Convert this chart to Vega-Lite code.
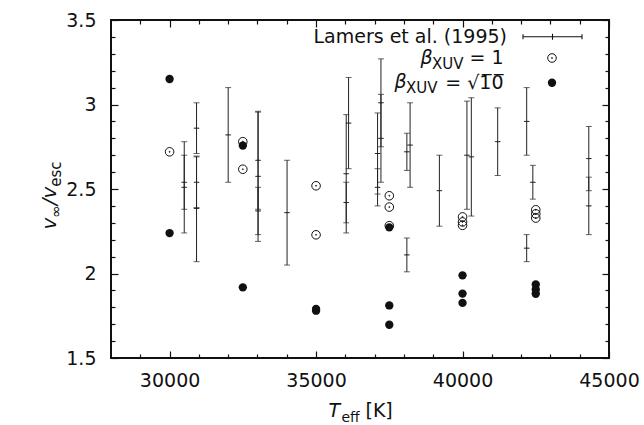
{
  "$schema": "https://vega.github.io/schema/vega-lite/v6.json",
  "width": 498,
  "height": 338,
  "autosize": {"type": "none"},
  "padding": {"left": 111, "top": 20, "right": 35, "bottom": 67},
  "background": "white",
  "config": {
    "font": "DejaVu Sans",
    "view": {"stroke": "#111", "strokeWidth": 2},
    "axis": {
      "grid": false, "domain": false, "labelFlush": false, "labelOverlap": false,
      "tickColor": "#111", "tickWidth": 1.2, "labelColor": "#111", "labelFont": "DejaVu Sans",
      "labelFontSize": 19, "titleColor": "#111", "titleFont": "DejaVu Sans", "titleFontWeight": "normal",
      "titlePadding": 0
    },
    "legend": {"labelFont": "DejaVu Sans", "labelFontSize": 19, "labelColor": "#111", "labelLimit": 400, "padding": 0, "title": null}
  },
  "datasets": {
    "lamers": [
      {"Teff": 30500, "v": 2.51, "lo": 2.24, "hi": 2.78, "series": "Lamers et al. (1995)"},
      {"Teff": 30500, "v": 2.54, "lo": 2.38, "hi": 2.70, "series": "Lamers et al. (1995)"},
      {"Teff": 30920, "v": 2.86, "lo": 2.71, "hi": 3.01, "series": "Lamers et al. (1995)"},
      {"Teff": 30920, "v": 2.54, "lo": 2.39, "hi": 2.69, "series": "Lamers et al. (1995)"},
      {"Teff": 30920, "v": 2.385, "lo": 2.07, "hi": 2.695, "series": "Lamers et al. (1995)"},
      {"Teff": 32000, "v": 2.82, "lo": 2.54, "hi": 3.10, "series": "Lamers et al. (1995)"},
      {"Teff": 33020, "v": 2.575, "lo": 2.19, "hi": 2.96, "series": "Lamers et al. (1995)"},
      {"Teff": 33020, "v": 2.67, "lo": 2.38, "hi": 2.955, "series": "Lamers et al. (1995)"},
      {"Teff": 33020, "v": 2.37, "lo": 2.23, "hi": 2.51, "series": "Lamers et al. (1995)"},
      {"Teff": 34010, "v": 2.36, "lo": 2.05, "hi": 2.67, "series": "Lamers et al. (1995)"},
      {"Teff": 36110, "v": 2.89, "lo": 2.62, "hi": 3.16, "series": "Lamers et al. (1995)"},
      {"Teff": 36030, "v": 2.59, "lo": 2.24, "hi": 2.94, "series": "Lamers et al. (1995)"},
      {"Teff": 36030, "v": 2.42, "lo": 2.30, "hi": 2.54, "series": "Lamers et al. (1995)"},
      {"Teff": 37215, "v": 3.01, "lo": 2.75, "hi": 3.27, "series": "Lamers et al. (1995)"},
      {"Teff": 37215, "v": 2.80, "lo": 2.54, "hi": 3.06, "series": "Lamers et al. (1995)"},
      {"Teff": 37100, "v": 2.71, "lo": 2.47, "hi": 2.95, "series": "Lamers et al. (1995)"},
      {"Teff": 37100, "v": 2.51, "lo": 2.40, "hi": 2.62, "series": "Lamers et al. (1995)"},
      {"Teff": 38100, "v": 2.72, "lo": 2.61, "hi": 2.83, "series": "Lamers et al. (1995)"},
      {"Teff": 38210, "v": 2.76, "lo": 2.51, "hi": 3.01, "series": "Lamers et al. (1995)"},
      {"Teff": 38100, "v": 2.11, "lo": 2.01, "hi": 2.21, "series": "Lamers et al. (1995)"},
      {"Teff": 39210, "v": 2.49, "lo": 2.28, "hi": 2.70, "series": "Lamers et al. (1995)"},
      {"Teff": 40150, "v": 2.70, "lo": 2.38, "hi": 3.02, "series": "Lamers et al. (1995)"},
      {"Teff": 40300, "v": 2.69, "lo": 2.34, "hi": 3.04, "series": "Lamers et al. (1995)"},
      {"Teff": 41200, "v": 2.78, "lo": 2.58, "hi": 2.98, "series": "Lamers et al. (1995)"},
      {"Teff": 42190, "v": 2.90, "lo": 2.70, "hi": 3.10, "series": "Lamers et al. (1995)"},
      {"Teff": 42400, "v": 2.54, "lo": 2.44, "hi": 2.64, "series": "Lamers et al. (1995)"},
      {"Teff": 42190, "v": 2.15, "lo": 2.07, "hi": 2.23, "series": "Lamers et al. (1995)"},
      {"Teff": 44310, "v": 2.68, "lo": 2.49, "hi": 2.87, "series": "Lamers et al. (1995)"},
      {"Teff": 44310, "v": 2.40, "lo": 2.23, "hi": 2.57, "series": "Lamers et al. (1995)"}
    ],
    "models": [
      {"Teff": 30000, "v": 2.72, "series": "β_XUV = 1"},
      {"Teff": 32500, "v": 2.78, "series": "β_XUV = 1"},
      {"Teff": 32500, "v": 2.617, "series": "β_XUV = 1"},
      {"Teff": 35000, "v": 2.519, "series": "β_XUV = 1"},
      {"Teff": 35000, "v": 2.229, "series": "β_XUV = 1"},
      {"Teff": 37500, "v": 2.46, "series": "β_XUV = 1"},
      {"Teff": 37500, "v": 2.393, "series": "β_XUV = 1"},
      {"Teff": 37500, "v": 2.283, "series": "β_XUV = 1"},
      {"Teff": 40000, "v": 2.335, "series": "β_XUV = 1"},
      {"Teff": 40000, "v": 2.305, "series": "β_XUV = 1"},
      {"Teff": 40000, "v": 2.285, "series": "β_XUV = 1"},
      {"Teff": 42500, "v": 2.377, "series": "β_XUV = 1"},
      {"Teff": 42500, "v": 2.353, "series": "β_XUV = 1"},
      {"Teff": 42500, "v": 2.328, "series": "β_XUV = 1"},
      {"Teff": 30000, "v": 3.151, "series": "β_XUV = √10"},
      {"Teff": 30000, "v": 2.239, "series": "β_XUV = √10"},
      {"Teff": 32500, "v": 2.757, "series": "β_XUV = √10"},
      {"Teff": 32500, "v": 1.918, "series": "β_XUV = √10"},
      {"Teff": 35000, "v": 1.79, "series": "β_XUV = √10"},
      {"Teff": 35000, "v": 1.78, "series": "β_XUV = √10"},
      {"Teff": 37500, "v": 2.273, "series": "β_XUV = √10"},
      {"Teff": 37500, "v": 1.811, "series": "β_XUV = √10"},
      {"Teff": 37500, "v": 1.697, "series": "β_XUV = √10"},
      {"Teff": 40000, "v": 1.989, "series": "β_XUV = √10"},
      {"Teff": 40000, "v": 1.881, "series": "β_XUV = √10"},
      {"Teff": 40000, "v": 1.826, "series": "β_XUV = √10"},
      {"Teff": 42500, "v": 1.935, "series": "β_XUV = √10"},
      {"Teff": 42500, "v": 1.905, "series": "β_XUV = √10"},
      {"Teff": 42500, "v": 1.88, "series": "β_XUV = √10"}
    ]
  },
  "layer": [
    {
      "data": {"name": "lamers"},
      "mark": {"type": "rule", "color": "#222", "strokeWidth": 1},
      "encoding": {
        "x": {"field": "Teff", "type": "quantitative", "scale": {"domain": [28000, 45000], "nice": false, "zero": false},
          "axis": {"orient": "bottom", "values": [30000, 35000, 40000, 45000], "format": "d", "ticks": false, "labelPadding": 13,
            "title": "T", "titleFontStyle": "italic", "titleFontSize": 19, "titleX": 217, "titleY": 58, "titleAngle": 0, "titleAlign": "left", "titleBaseline": "alphabetic"}},
        "y": {"field": "lo", "type": "quantitative", "scale": {"domain": [1.5, 3.5], "nice": false, "zero": false},
          "axis": {"orient": "left", "values": [1.5, 2, 2.5, 3, 3.5], "format": "~g", "ticks": false, "labelPadding": 15,
            "title": "v", "titleFontStyle": "italic", "titleFontSize": 20, "titleX": -56, "titleY": 209, "titleAngle": 270, "titleAlign": "left", "titleBaseline": "alphabetic"}},
        "y2": {"field": "hi"}
      }
    },
    {
      "data": {"name": "lamers"},
      "mark": {"type": "tick", "orient": "horizontal", "color": "#222", "thickness": 1, "size": 6},
      "encoding": {
        "x": {"field": "Teff", "type": "quantitative", "scale": {"domain": [28000, 45000], "nice": false, "zero": false},
          "axis": {"orient": "bottom", "offset": -7, "tickSize": 7, "values": [30000, 35000, 40000, 45000], "labels": false,
            "title": "eff", "titleFontSize": 14, "titleX": 230, "titleY": 70, "titleAngle": 0, "titleAlign": "left", "titleBaseline": "alphabetic"}},
        "y": {"field": "lo", "type": "quantitative", "scale": {"domain": [1.5, 3.5], "nice": false, "zero": false},
          "axis": {"orient": "left", "offset": -7, "tickSize": 7, "values": [1.5, 2, 2.5, 3, 3.5], "labels": false,
            "title": "∞", "titleFontSize": 15, "titleX": -58, "titleY": 197.3, "titleAngle": 270, "titleAlign": "left", "titleBaseline": "alphabetic"}}
      }
    },
    {
      "data": {"name": "lamers"},
      "mark": {"type": "tick", "orient": "horizontal", "color": "#222", "thickness": 1, "size": 6},
      "encoding": {
        "x": {"field": "Teff", "type": "quantitative", "scale": {"domain": [28000, 45000], "nice": false, "zero": false},
          "axis": {"orient": "bottom", "offset": -4, "tickSize": 4, "values": [29000, 31000, 32000, 33000, 34000, 36000, 37000, 38000, 39000, 41000, 42000, 43000, 44000], "labels": false,
            "title": "[K]", "titleFontSize": 19, "titleX": 254, "titleY": 62, "titleAngle": 0, "titleAlign": "left", "titleBaseline": "alphabetic"}},
        "y": {"field": "hi", "type": "quantitative", "scale": {"domain": [1.5, 3.5], "nice": false, "zero": false},
          "axis": {"orient": "left", "offset": -4, "tickSize": 4, "values": [1.6, 1.7, 1.8, 1.9, 2.1, 2.2, 2.3, 2.4, 2.6, 2.7, 2.8, 2.9, 3.1, 3.2, 3.3, 3.4], "labels": false,
            "title": "/v", "titleFontStyle": "italic", "titleFontSize": 20, "titleX": -60, "titleY": 184.8, "titleAngle": 270, "titleAlign": "left", "titleBaseline": "alphabetic"}}
      }
    },
    {
      "data": {"name": "lamers"},
      "mark": {"type": "point", "filled": false, "color": "#222", "strokeWidth": 1, "size": 25, "opacity": 1},
      "encoding": {
        "x": {"field": "Teff", "type": "quantitative", "scale": {"domain": [28000, 45000], "nice": false, "zero": false},
          "axis": {"orient": "top", "offset": -7, "tickSize": 7, "values": [30000, 35000, 40000, 45000], "labels": false,
            "title": "β", "titleFontStyle": "italic", "titleFontSize": 19, "titleX": 309, "titleY": 36, "titleAngle": 0, "titleAlign": "left", "titleBaseline": "alphabetic"}},
        "y": {"field": "v", "type": "quantitative", "scale": {"domain": [1.5, 3.5], "nice": false, "zero": false},
          "axis": {"orient": "right", "offset": -7, "tickSize": 7, "values": [1.5, 2, 2.5, 3, 3.5], "labels": false,
            "title": "esc", "titleFontSize": 15, "titleX": -542, "titleY": 166.2, "titleAngle": 270, "titleAlign": "left", "titleBaseline": "alphabetic"}},
        "shape": {"field": "series", "type": "nominal",
          "scale": {"domain": ["Lamers et al. (1995)", "β_XUV = 1", "β_XUV = √10"],
            "range": ["M-1,0H1M-1,-0.085V0.085M1,-0.085V0.085M0,-0.1V0.1", "M-1,0A1,1,0,1,1,1,0A1,1,0,1,1,-1,0ZM-0.12,0A0.12,0.12,0,1,1,0.12,0A0.12,0.12,0,1,1,-0.12,0Z", "circle"]},
          "legend": {"orient": "none", "legendX": 411, "legendY": -13.8, "values": ["Lamers et al. (1995)"], "symbolSize": 3481,
            "symbolStrokeColor": "#111", "symbolStrokeWidth": 1.1, "labelAlign": "right", "labelOffset": -76}}
      }
    },
    {
      "data": {"name": "models"},
      "transform": [{"filter": "datum.series === 'β_XUV = 1'"}],
      "mark": {"type": "point", "filled": false, "color": "#111", "strokeWidth": 1, "size": 74, "opacity": 1,
        "shape": "M-1,0A1,1,0,1,1,1,0A1,1,0,1,1,-1,0ZM-0.12,0A0.12,0.12,0,1,1,0.12,0A0.12,0.12,0,1,1,-0.12,0Z"},
      "encoding": {
        "x": {"field": "Teff", "type": "quantitative", "scale": {"domain": [28000, 45000], "nice": false, "zero": false},
          "axis": {"orient": "top", "offset": -4, "tickSize": 4, "values": [29000, 31000, 32000, 33000, 34000, 36000, 37000, 38000, 39000, 41000, 42000, 43000, 44000], "labels": false,
            "title": "XUV", "titleFontSize": 15, "titleX": 320.5, "titleY": 44, "titleAngle": 0, "titleAlign": "left", "titleBaseline": "alphabetic"}},
        "y": {"field": "v", "type": "quantitative", "scale": {"domain": [1.5, 3.5], "nice": false, "zero": false},
          "axis": {"orient": "right", "offset": -4, "tickSize": 4, "values": [1.6, 1.7, 1.8, 1.9, 2.1, 2.2, 2.3, 2.4, 2.6, 2.7, 2.8, 2.9, 3.1, 3.2, 3.3, 3.4], "labels": false,
            "title": "β", "titleFontStyle": "italic", "titleFontSize": 19, "titleX": -211, "titleY": 67.4, "titleAngle": 0, "titleAlign": "left", "titleBaseline": "alphabetic"}},
        "fill": {"field": "series", "type": "nominal",
          "scale": {"domain": ["β_XUV = 1", "β_XUV = √10", "Lamers et al. (1995)"], "range": ["transparent", "#111", "transparent"]},
          "legend": {"orient": "none", "legendX": 431.5, "legendY": 28.5, "values": ["β_XUV = 1"], "symbolSize": 74,
            "symbolType": "M-1,0A1,1,0,1,1,1,0A1,1,0,1,1,-1,0ZM-0.12,0A0.12,0.12,0,1,1,0.12,0A0.12,0.12,0,1,1,-0.12,0Z",
            "symbolStrokeColor": "#111", "symbolStrokeWidth": 1, "labelAlign": "right", "labelOffset": -58, "labelExpr": "'= 1'"}}
      }
    },
    {
      "data": {"name": "models"},
      "transform": [{"filter": "datum.series === 'β_XUV = √10'"}],
      "mark": {"type": "point", "filled": true, "shape": "circle", "size": 70, "opacity": 1},
      "encoding": {
        "x": {"field": "Teff", "type": "quantitative", "scale": {"domain": [28000, 45000], "nice": false, "zero": false},
          "axis": null},
        "y": {"field": "v", "type": "quantitative", "scale": {"domain": [1.5, 3.5], "nice": false, "zero": false},
          "axis": {"orient": "left", "ticks": false, "labels": false,
            "title": "XUV", "titleFontSize": 15, "titleX": 294.5, "titleY": 72.4, "titleAngle": 0, "titleAlign": "left", "titleBaseline": "alphabetic"}},
        "color": {"field": "series", "type": "nominal",
          "scale": {"domain": ["β_XUV = √10", "Lamers et al. (1995)", "β_XUV = 1"], "range": ["#111", "#222", "#111"]},
          "legend": {"orient": "none", "legendX": 431.5, "legendY": 53.3, "values": ["β_XUV = √10"], "symbolSize": 70, "symbolType": "circle",
            "symbolOpacity": 1, "labelAlign": "right", "labelOffset": -58, "labelExpr": "'= √1̅0̅'"}}
      }
    }
  ],
  "resolve": {"axis": {"x": "independent", "y": "independent"}}
}
